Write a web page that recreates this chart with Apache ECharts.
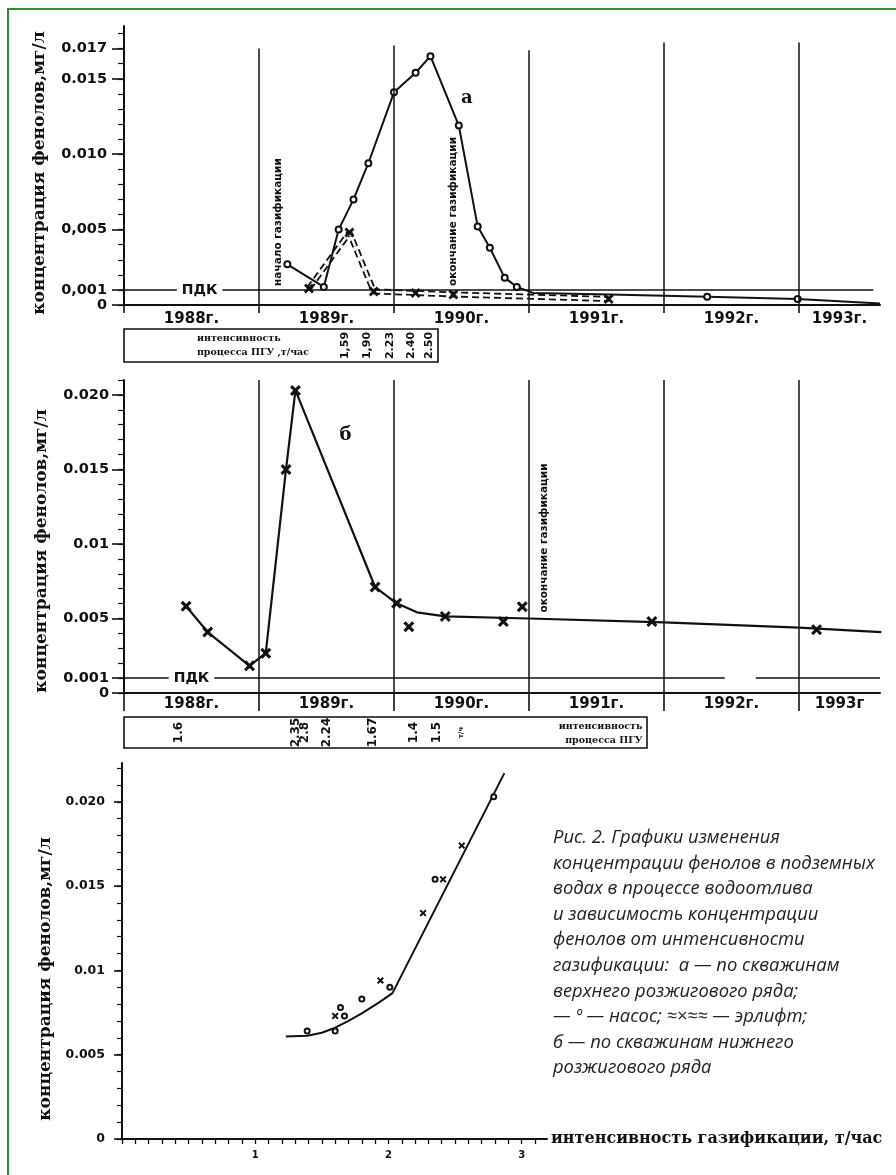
<!DOCTYPE html>
<html><head><meta charset="utf-8">
<script src="https://cdn.jsdelivr.net/npm/echarts@6/dist/echarts.min.js"></script>
<style>html,body{margin:0;padding:0;background:#fff}#c{width:896px;height:1175px}</style>
</head><body><div id="c"></div>
<script>
// ================= DATA =================
// Chart "а" — upper ignition row wells
const aPumpYears    = [1989.21, 1989.48, 1989.59, 1989.70, 1989.81, 1990.00, 1990.16, 1990.27, 1990.48, 1990.62, 1990.71, 1990.82, 1990.91, 1991.03, 1991.60, 1992.32, 1992.99, 1993.60];
const aPumpConc     = [0.0027, 0.0012, 0.0050, 0.0070, 0.0094, 0.0141, 0.0154, 0.0165, 0.0119, 0.0052, 0.0038, 0.0018, 0.0012, 0.0008, 0.0007, 0.00055, 0.0004, 0.0001];
const aPumpMeasured = [1, 1, 1, 1, 1, 1, 1, 1, 1, 1, 1, 1, 1, 0, 0, 1, 1, 0];
const aAirYears     = [1989.37, 1989.67, 1989.85, 1990.16, 1990.44, 1991.59];
const aAirConc      = [0.0011, 0.0048, 0.0009, 0.0008, 0.0007, 0.0004];
const aYTicks       = [0, 0.001, 0.005, 0.010, 0.015, 0.017];
const aYTickLabels  = ['0', '0,001', '0,005', '0.010', '0.015', '0.017'];
const aYearLineTops = [0.0170, 0.0172, 0.0169, 0.0174, 0.0174];
const aIntensity    = ['1,59', '1,90', '2.23', '2.40', '2.50'];
const aIntensityAt  = [1989.64, 1989.80, 1989.97, 1990.13, 1990.26];

// Chart "б" — lower ignition row wells
const bLineYears  = [1988.46, 1988.62, 1988.93, 1989.05, 1989.20, 1989.27, 1989.86, 1990.02, 1990.17, 1990.38, 1991.00, 1992.00, 1993.00, 1993.61];
const bLineConc   = [0.00582, 0.00409, 0.00182, 0.00267, 0.0150, 0.0203, 0.00711, 0.00602, 0.00541, 0.00514, 0.0050, 0.00474, 0.00439, 0.00409];
const bMarkYears  = [1988.46, 1988.62, 1988.93, 1989.05, 1989.20, 1989.27, 1989.86, 1990.02, 1990.11, 1990.38, 1990.81, 1990.95, 1991.91, 1993.13];
const bMarkConc   = [0.00582, 0.00409, 0.00182, 0.00267, 0.0150, 0.0203, 0.00711, 0.00602, 0.00444, 0.00514, 0.00479, 0.00579, 0.00479, 0.00425];
const bYTicks      = [0, 0.001, 0.005, 0.010, 0.015, 0.020];
const bYTickLabels = ['0', '0.001', '0.005', '0.01', '0.015', '0.020'];
const bIntensity   = ['1.6', '2.35', '2.8', '2.24', '1.67', '1.4', '1.5'];
const bIntensityAt = [1988.41, 1989.27, 1989.34, 1989.50, 1989.84, 1990.15, 1990.32];
const bPdkSegments = [[1988, 1992.45], [1992.68, 1993.60]];

// Shared time axis
const yearBounds   = [1988, 1989, 1990, 1991, 1992, 1993];
const yearLabelsA  = ['1988г.', '1989г.', '1990г.', '1991г.', '1992г.', '1993г.'];
const yearLabelsB  = ['1988г.', '1989г.', '1990г.', '1991г.', '1992г.', '1993г'];
const yearLabelAt  = [1988.5, 1989.5, 1990.5, 1991.5, 1992.5, 1993.3];
const PDK = 0.001;

// Chart 3 — concentration vs gasification intensity
const cPumpX  = [1.39, 1.60, 1.64, 1.67, 1.80, 2.01, 2.35, 2.79];
const cPumpY  = [0.0064, 0.0064, 0.0078, 0.0073, 0.0083, 0.0090, 0.0154, 0.0203];
const cAirX   = [1.60, 1.94, 2.26, 2.41, 2.55];
const cAirY   = [0.0073, 0.0094, 0.0134, 0.0154, 0.0174];
const cCurveX = [1.23, 1.39, 1.50, 1.60, 1.70, 1.80, 1.93, 2.03, 2.87];
const cCurveY = [0.00608, 0.00612, 0.0063, 0.0066, 0.0070, 0.00745, 0.0081, 0.00865, 0.0217];
const cYTicks      = [0, 0.005, 0.010, 0.015, 0.020];
const cYTickLabels = ['0', '0.005', '0.01', '0.015', '0.020'];
const cXTicks      = [1, 2, 3];

// Text annotations (anchored in data units)
const aNotes = [
  {text: 'начало газификации', year: 1989.14, conc: 0.0055, rot: 90},
  {text: 'окончание газификации', year: 1990.44, conc: 0.0062, rot: 90},
  {text: 'а', year: 1990.54, conc: 0.0137, rot: 0, big: true}
];
const bNotes = [
  {text: 'окончание газификации', year: 1991.11, conc: 0.0104, rot: 90},
  {text: 'б', year: 1989.64, conc: 0.0173, rot: 0, big: true}
];
const pdkLabelA = 1988.56, pdkLabelB = 1988.50;
const yTitle = 'концентрация фенолов,мг/л';
const xTitleC = 'интенсивность газификации, т/час';
const boxLine1 = 'интенсивность';
const boxLine2A = 'процесса ПГУ ,т/час';
const boxLine2B = 'процесса ПГУ';
const caption = 'Рис. 2. Графики изменения\nконцентрации фенолов в подземных\nводах в процессе водоотлива\nи зависимость концентрации\nфенолов от интенсивности\nгазификации:  а — по скважинам\nверхнего розжигового ряда;\n— º — насос; ≈×≈≈ — эрлифт;\nб — по скважинам нижнего\nрозжигового ряда';

// ================= CHART =================
const ink = '#111';
const xPath = 'path://M2,0L5,3L8,0L10,2L7,5L10,8L8,10L5,7L2,10L0,8L3,5L0,2Z';
function steps(from, to, step) { const r = []; for (let k = 0; from + k * step <= to + 1e-12; k++) r.push(+(from + k * step).toFixed(6)); return r; }
function fmtFrom(ticks, labels) { return v => { const i = ticks.findIndex(t => Math.abs(t - v) < 1e-7); return i >= 0 ? labels[i] : ''; }; }
const boldSans = (size) => ({fontFamily: 'DejaVu Sans', fontWeight: 'bold', fontSize: size, color: ink});
const hidden = {color: 'transparent', opacity: 1};

// Layout
const A = {left: 124, top: 26, width: 756, height: 279, xMax: 1993.6, yMax: 0.0185};
const AB = {left: 124, top: 329, width: 314, height: 33};
const B = {left: 124, top: 380, width: 756, height: 313, xMax: 1993.6, yMax: 0.021};
const BB = {left: 124, top: 717, width: 523, height: 31};
const C = {left: 122, top: 763, width: 425, height: 376, xMax: 3.19, yMax: 0.0223};
const pxPerYear = A.width / (A.xMax - 1988);

function timeX(gi, labels, margin, tickLen) {
  return {type: 'value', gridIndex: gi, min: 1988, max: 1993.6, position: 'bottom',
    axisLine: {show: true, onZero: false, lineStyle: {color: ink, width: 2}},
    axisTick: {show: true, customValues: yearBounds, length: tickLen, lineStyle: {color: ink, width: 1.6}},
    axisLabel: {show: true, customValues: yearLabelAt, formatter: fmtFrom(yearLabelAt, labels), margin: margin, ...boldSans(15)},
    splitLine: {show: false}};
}
function majorY(gi, max, ticks, labels, tickLen, margin, fs) {
  return {type: 'value', gridIndex: gi, min: 0, max: max, position: 'left',
    axisLine: {show: true, onZero: false, lineStyle: {color: ink, width: 2}},
    axisTick: {show: true, customValues: ticks, length: tickLen, lineStyle: {color: ink, width: 1.6}},
    axisLabel: {show: true, customValues: ticks, formatter: fmtFrom(ticks, labels), margin: margin, ...boldSans(fs)},
    splitLine: {show: false}};
}
function minorY(gi, max, step, tickLen) {
  return {type: 'value', gridIndex: gi, min: 0, max: max, position: 'left', offset: 0,
    axisLine: {show: false, onZero: false}, axisLabel: {show: false}, splitLine: {show: false},
    axisTick: {show: true, customValues: steps(0, max, step), length: tickLen, lineStyle: {color: ink, width: 1.2}}};
}
function boxAxes(gi, box) {
  return [{type: 'value', gridIndex: gi, min: 1988, max: 1988 + box.width / pxPerYear, show: false},
          {type: 'value', gridIndex: gi, min: 0, max: 1, show: false}];
}
const abx = boxAxes(1, AB), bbx = boxAxes(3, BB);

const vline = (yr, top) => [{coord: [yr, top]}, {coord: [yr, 0]}];
const mlBase = {silent: true, symbol: ['none', 'none'], label: {show: false}, animation: false,
  lineStyle: {type: 'solid', color: ink, width: 1.5}};

function noteSeries(xi, yi, notes) {
  return {type: 'scatter', xAxisIndex: xi, yAxisIndex: yi, z: 6, symbolSize: 1, itemStyle: hidden,
    data: notes.map(n => ({value: [n.year, n.conc], name: n.text,
      label: {show: true, position: 'inside', rotate: n.rot, formatter: '{b}',
        fontFamily: n.big ? 'DejaVu Serif' : 'DejaVu Sans', fontWeight: 'bold', fontSize: n.big ? 18 : 10.5, color: ink}}))};
}
function pdkLabel(xi, yi, yr) {
  return {type: 'scatter', xAxisIndex: xi, yAxisIndex: yi, z: 7, symbolSize: 1, itemStyle: hidden,
    data: [{value: [yr, PDK], name: 'ПДК'}],
    label: {show: true, position: 'inside', formatter: '{b}', backgroundColor: '#fff', padding: [1, 5],
      ...boldSans(14)}};
}
function intensitySeries(xi, yi, texts, at, fs) {
  return {type: 'scatter', xAxisIndex: xi, yAxisIndex: yi, z: 6, symbolSize: 1, itemStyle: hidden,
    data: texts.map((t, i) => ({value: [at[i], 0.5], name: t})),
    label: {show: true, position: 'inside', rotate: 90, formatter: '{b}', ...boldSans(fs)}};
}
function boxText(xi, yi, items) {
  return {type: 'scatter', xAxisIndex: xi, yAxisIndex: yi, z: 6, symbolSize: 1, itemStyle: hidden,
    data: items.map(it => ({value: [it.x, it.y], name: it.t,
      label: {show: true, position: 'inside', align: it.align, formatter: '{b}',
        fontFamily: 'DejaVu Serif', fontWeight: 'bold', fontSize: 9.5, color: ink}}))};
}
const solid = {color: ink, opacity: 1};

const option = {
  animation: false,
  backgroundColor: '#fff',
  grid: [
    {left: A.left, top: A.top, width: A.width, height: A.height},
    {left: AB.left, top: AB.top, width: AB.width, height: AB.height, show: true, borderColor: ink, borderWidth: 1.6, backgroundColor: 'transparent'},
    {left: B.left, top: B.top, width: B.width, height: B.height},
    {left: BB.left, top: BB.top, width: BB.width, height: BB.height, show: true, borderColor: ink, borderWidth: 1.6, backgroundColor: 'transparent'},
    {left: C.left, top: C.top, width: C.width, height: C.height}
  ],
  xAxis: [
    timeX(0, yearLabelsA, 7, 8),
    abx[0],
    timeX(2, yearLabelsB, 4, 18),
    bbx[0],
    {type: 'value', gridIndex: 4, min: 0, max: C.xMax, position: 'bottom',
      axisLine: {show: true, onZero: false, lineStyle: {color: ink, width: 2}},
      axisTick: {show: true, customValues: steps(0, 3.1, 0.1), length: 5, lineStyle: {color: ink, width: 1.3}},
      axisLabel: {show: true, customValues: cXTicks, formatter: v => String(Math.round(v)), margin: 11, ...boldSans(10)},
      splitLine: {show: false},
      name: xTitleC, nameLocation: 'end', nameGap: 4,
      nameTextStyle: {fontFamily: 'DejaVu Serif', fontWeight: 'bold', fontSize: 16, color: ink, align: 'left', verticalAlign: 'middle', padding: [8, 0, 0, 0]}}
  ],
  yAxis: [
    majorY(0, A.yMax, aYTicks, aYTickLabels, 12, 17, 14.5),
    minorY(0, A.yMax, 0.001, 6),
    abx[1],
    majorY(2, B.yMax, bYTicks, bYTickLabels, 12, 15, 14.5),
    minorY(2, B.yMax, 0.001, 6),
    bbx[1],
    majorY(4, C.yMax, cYTicks, cYTickLabels, 8, 17, 12.5),
    minorY(4, C.yMax, 0.001, 5)
  ],
  series: [
    // ---- chart а ----
    {type: 'line', xAxisIndex: 0, yAxisIndex: 0, z: 4,
      data: aPumpYears.map((x, i) => ({value: [x, aPumpConc[i]], symbol: aPumpMeasured[i] ? 'emptyCircle' : 'none'})),
      symbolSize: 6, lineStyle: {color: ink, width: 2}, itemStyle: {color: ink, borderColor: ink, borderWidth: 1.5, opacity: 1},
      markLine: Object.assign({}, mlBase, {data: yearBounds.slice(1).map((y, i) => vline(y, aYearLineTops[i]))
        .concat([[{coord: [1988, PDK]}, {coord: [1993.55, PDK]}]])})},
    {type: 'line', xAxisIndex: 0, yAxisIndex: 0, z: 3, symbol: 'none',
      data: aAirYears.map((x, i) => [x, aAirConc[i]]), lineStyle: {color: ink, width: 6, type: [7, 4]}},
    {type: 'line', xAxisIndex: 0, yAxisIndex: 0, z: 3, symbol: 'none',
      data: aAirYears.map((x, i) => [x, aAirConc[i]]), lineStyle: {color: '#fff', width: 2.4, type: [7, 4]}},
    {type: 'scatter', xAxisIndex: 0, yAxisIndex: 0, z: 5, symbol: xPath, symbolSize: 10,
      data: aAirYears.map((x, i) => [x, aAirConc[i]]), itemStyle: solid},
    noteSeries(0, 0, aNotes),
    pdkLabel(0, 0, pdkLabelA),
    intensitySeries(1, 2, aIntensity, aIntensityAt, 11),
    boxText(1, 2, [{t: boxLine1, x: 1988.54, y: 0.70, align: 'left'}, {t: boxLine2A, x: 1988.54, y: 0.30, align: 'left'}]),
    // ---- chart б ----
    {type: 'line', xAxisIndex: 2, yAxisIndex: 3, z: 4, symbol: 'none',
      data: bLineYears.map((x, i) => [x, bLineConc[i]]), lineStyle: {color: ink, width: 2.2},
      markLine: Object.assign({}, mlBase, {data: yearBounds.slice(1).map(y => vline(y, B.yMax))
        .concat(bPdkSegments.map(s => [{coord: [s[0], PDK]}, {coord: [s[1], PDK]}]))})},
    {type: 'scatter', xAxisIndex: 2, yAxisIndex: 3, z: 5, symbol: xPath, symbolSize: 11,
      data: bMarkYears.map((x, i) => [x, bMarkConc[i]]), itemStyle: solid},
    noteSeries(2, 3, bNotes),
    pdkLabel(2, 3, pdkLabelB),
    intensitySeries(3, 5, bIntensity, bIntensityAt, 12),
    {type: 'scatter', xAxisIndex: 3, yAxisIndex: 5, z: 6, symbolSize: 1, itemStyle: hidden,
      data: [{value: [1990.50, 0.5], name: 'т/ч'}],
      label: {show: true, position: 'inside', rotate: 90, formatter: '{b}', ...boldSans(7)}},
    boxText(3, 5, [{t: boxLine1, x: 1991.84, y: 0.68, align: 'right'}, {t: boxLine2B, x: 1991.84, y: 0.24, align: 'right'}]),
    // ---- chart 3 ----
    {type: 'line', xAxisIndex: 4, yAxisIndex: 6, z: 3, symbol: 'none', smooth: false,
      data: cCurveX.map((x, i) => [x, cCurveY[i]]), lineStyle: {color: ink, width: 2, join: 'round'}},
    {type: 'scatter', xAxisIndex: 4, yAxisIndex: 6, z: 5, symbol: 'emptyCircle', symbolSize: 5,
      data: cPumpX.map((x, i) => [x, cPumpY[i]]), itemStyle: {color: ink, borderColor: ink, borderWidth: 1.3, opacity: 1}},
    {type: 'scatter', xAxisIndex: 4, yAxisIndex: 6, z: 5, symbol: xPath, symbolSize: 7,
      data: cAirX.map((x, i) => [x, cAirY[i]]), itemStyle: solid}
  ],
  graphic: [
    {type: 'rect', silent: true, z: 100, shape: {x: 8, y: 9, width: 900, height: 1180}, style: {fill: 'none', stroke: '#2e8b3a', lineWidth: 2}},
    {type: 'text', silent: true, x: 40, y: 173, rotation: Math.PI / 2,
      style: {text: yTitle, font: 'bold 17px "DejaVu Serif"', fill: ink, textAlign: 'center', textVerticalAlign: 'middle'}},
    {type: 'text', silent: true, x: 42, y: 551, rotation: Math.PI / 2,
      style: {text: yTitle, font: 'bold 17px "DejaVu Serif"', fill: ink, textAlign: 'center', textVerticalAlign: 'middle'}},
    {type: 'text', silent: true, x: 46, y: 979, rotation: Math.PI / 2,
      style: {text: yTitle, font: 'bold 17px "DejaVu Serif"', fill: ink, textAlign: 'center', textVerticalAlign: 'middle'}},
    {type: 'text', silent: true, x: 553, y: 825,
      style: {text: caption, font: 'italic 18.4px "Open Sans"', fill: '#222', lineHeight: 25.6, textAlign: 'left', textVerticalAlign: 'top'}}
  ]
};
const chart = echarts.init(document.getElementById('c'), null, {renderer: 'canvas'});
chart.setOption(option);
</script>
</body></html>
